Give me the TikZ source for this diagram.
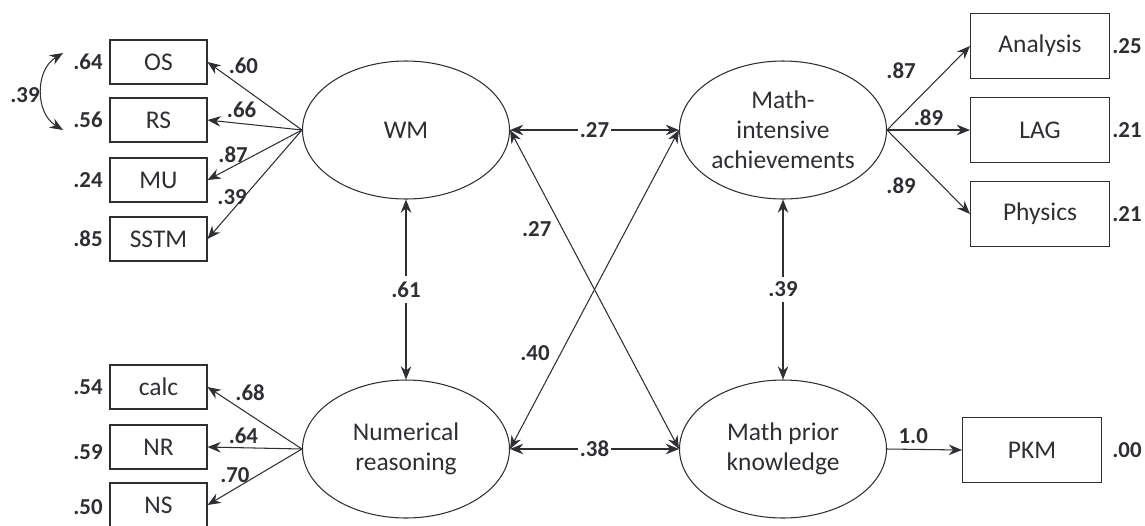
\documentclass[tikz,border=0pt]{standalone}
\usepackage{fontspec}
\setmainfont{Carlito}
\usetikzlibrary{shapes.geometric, arrows.meta, positioning}
\definecolor{ink}{HTML}{2E2F33}

\begin{document}
\begin{tikzpicture}[>={Stealth[length=7.5pt,width=6pt]}, line width=0.6pt, draw=ink, text=ink,
  latent/.style={ellipse, draw, minimum width=4.14cm, minimum height=2.76cm, inner sep=0pt, align=center, font=\fontsize{14.5}{17}\selectfont},
  obs/.style={rectangle, draw, minimum width=1.94cm, minimum height=0.88cm, inner sep=0pt, font=\fontsize{14.5}{17}\selectfont},
  obsbig/.style={obs, minimum width=2.78cm, minimum height=1.3cm},
  est/.style={font=\bfseries\fontsize{13}{15}\selectfont, inner sep=1pt},
  cov/.style={<->, shorten >=0pt, shorten <=0pt}]
  \useasboundingbox (0,0) rectangle (22.9,-10.5);
  % latent factors
  \node[latent] (WM) at (8.12,-2.6) {WM};
  \node[latent] (MIA) at (15.66,-2.6) {Math-\\intensive\\achievements};
  \node[latent] (NUM) at (8.12,-8.98) {Numerical\\reasoning};
  \node[latent] (MPK) at (15.66,-8.98) {Math prior\\knowledge};
  % indicators
  \node[obs] (OS) at (3.17,-1.24) {OS};
  \node[obs] (RS) at (3.17,-2.4) {RS};
  \node[obs] (MU) at (3.17,-3.6) {MU};
  \node[obs] (SSTM) at (3.17,-4.78) {SSTM};
  \node[obs] (calc) at (3.17,-7.74) {calc};
  \node[obs] (NR) at (3.17,-8.94) {NR};
  \node[obs] (NS) at (3.17,-10.1) {NS};
  \node[obsbig] (Analysis) at (20.8,-0.92) {Analysis};
  \node[obsbig] (LAG) at (20.8,-2.6) {LAG};
  \node[obsbig] (Physics) at (20.8,-4.28) {Physics};
  \node[obsbig] (PKM) at (20.64,-9.0) {PKM};
  % residuals
  \node[est] (eOS) at (1.76,-1.24) {.64};
  \node[est] (eRS) at (1.76,-2.4) {.56};
  \node[est] (eMU) at (1.76,-3.6) {.24};
  \node[est] (eSSTM) at (1.76,-4.78) {.85};
  \node[est] (ecalc) at (1.76,-7.74) {.54};
  \node[est] (eNR) at (1.76,-9.04) {.59};
  \node[est] (eNS) at (1.76,-10.14) {.50};
  \node[est] (eAnalysis) at (22.54,-0.92) {.25};
  \node[est] (eLAG) at (22.54,-2.6) {.21};
  \node[est] (ePhysics) at (22.54,-4.28) {.21};
  \node[est] (ePKM) at (22.54,-9.0) {.00};
  % residual covariance
  \coordinate (c1) at (1.26,-1.06);
  \coordinate (c2) at (1.26,-2.6);
  \draw[<->] (c1) .. controls (0.7,-1.4) and (0.7,-2.26) .. (c2);
  \node[est] (rcov) at (0.5,-1.9) {.39};
  % loadings
  \draw[->] (WM.west) -- (OS.east) node[est, pos=.62, above=7pt] (lOS) {.60};
  \draw[->] (WM.west) -- (RS.east) node[est, pos=.64, above=2pt] (lRS) {.66};
  \draw[->] (WM.west) -- (MU.east) node[est, pos=.73, above=1pt] (lMU) {.87};
  \draw[->] (WM.west) -- (SSTM.east) node[est, pos=.74, above=2pt] (lSSTM) {.39};
  \draw[->] (NUM.west) -- (calc.east) node[est, pos=.55, above=7pt] (lcalc) {.68};
  \draw[->] (NUM.west) -- (NR.east) node[est, pos=.62, above=1pt] (lNR) {.64};
  \draw[->] (NUM.west) -- (NS.east) node[est, pos=.71, above=2pt] (lNS) {.70};
  \draw[->] (MIA.east) -- (Analysis.west) node[est, pos=.5, above left=4pt and 6pt] (lAnalysis) {.87};
  \draw[->] (MIA.east) -- (LAG.west) node[est, pos=.5, above=1pt] (lLAG) {.89};
  \draw[->] (MIA.east) -- (Physics.west) node[est, pos=.5, below left=2pt and 6pt] (lPhysics) {.89};
  \draw[->] (MPK.east) -- (PKM.west) node[est, pos=.35, above=2pt] (lPKM) {1.0};
  % factor covariances
  \draw[cov] (WM.east) -- (MIA.west) node[est, pos=.5, fill=white] (cWMMIA) {.27};
  \draw[cov] (NUM.east) -- (MPK.west) node[est, pos=.5, fill=white] (cNUMMPK) {.38};
  \draw[cov] (WM.south) -- (NUM.north) node[est, pos=.5, fill=white, inner sep=3pt] (cWMNUM) {.61};
  \draw[cov] (MIA.south) -- (MPK.north) node[est, pos=.5, fill=white, inner sep=3pt] (cMIAMPK) {.39};
  \draw[cov] (WM.east) -- (MPK.west) node[est, pos=.31, left=5pt] (cWMMPK) {.27};
  \draw[cov] (NUM.east) -- (MIA.west) node[est, pos=.30, left=5pt] (cNUMMIA) {.40};
\end{tikzpicture}
\end{document}
